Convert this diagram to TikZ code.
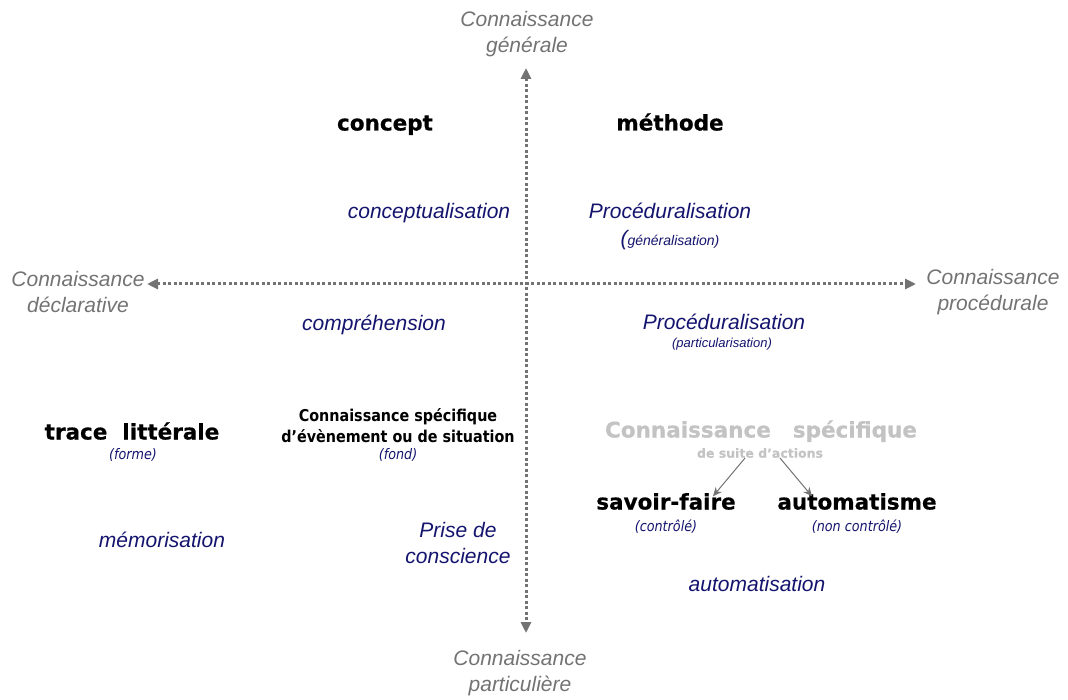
\documentclass[tikz,border=0pt]{standalone}
\usepackage{fontspec}
\setmainfont{Liberation Sans}
\newfontfamily\dejavu{DejaVu Sans}[FakeBold=0.6]
\newfontfamily\dejavuetroit{DejaVu Sans}[FakeStretch=0.88]
\usetikzlibrary{arrows.meta}
\definecolor{axegris}{RGB}{115,115,115}
\definecolor{bleunuit}{RGB}{20,20,110}
\definecolor{grisclair}{RGB}{195,195,195}
\tikzset{
  axe/.style={color=axegris, line width=3pt, dash pattern=on 3pt off 2.5pt,
    {Triangle[width=10pt,length=11pt]}-{Triangle[width=10pt,length=11pt]}},
  axelabel/.style={text=axegris, align=center, inner sep=0pt,
    font=\fontsize{21}{26}\selectfont\itshape},
  processus/.style={text=bleunuit, align=center, inner sep=0pt,
    font=\fontsize{21}{26}\selectfont\itshape},
  notion/.style={text=black, inner sep=0pt, text height=16pt, text depth=5pt,
    font=\dejavu\bfseries\fontsize{21.5}{25}\selectfont},
  note/.style={text=bleunuit, inner sep=0pt, font=\dejavuetroit\fontsize{14.5}{16}\selectfont\itshape},
  fleche/.style={color=axegris, line width=1pt, -{Stealth[width=8pt,length=9pt]}}
}
\begin{document}
\begin{tikzpicture}[x=1pt,y=-1pt]
\useasboundingbox (0,0) rectangle (1068,700);
% axes
\coordinate (haut) at (526,68);
\coordinate (bas) at (526,633);
\coordinate (gauche) at (147,284);
\coordinate (droite) at (916,284);
\draw[axe] (haut) -- (bas);
\draw[axe] (gauche) -- (droite);
\node[axelabel] (generale) at (527,34) {Connaissance\\générale};
\node[axelabel] (declarative) at (78,292) {Connaissance\\déclarative};
\node[axelabel] (procedurale) at (993,292) {Connaissance\\procédurale};
\node[axelabel] (particuliere) at (520,673) {Connaissance\\particulière};
% notions
\node[notion] (concept) at (385,125) {concept};
\node[notion] (methode) at (670,125) {méthode};
\node[notion] (trace) at (132,434) {trace\ \ littérale};
\node[note] (forme) at (133,455) {(forme)};
\node[inner sep=0pt, align=center, font=\dejavuetroit\bfseries\fontsize{16.3}{21}\selectfont] (specifique) at (398,426)
  {Connaissance spécifique\\d’évènement ou de situation};
\node[note] (fond) at (398,455) {(fond)};
\node[notion, text=grisclair] (actions) at (761,432) {Connaissance\hspace{22pt}spécifique};
\node[inner sep=0pt, text=grisclair, font=\dejavu\bfseries\fontsize{12.5}{15}\selectfont] (suite) at (760,453) {de suite d’actions};
\node[notion] (savoir) at (666,504) {savoir-faire};
\node[note] (controle) at (666,527) {(contrôlé)};
\node[notion] (automatisme) at (857,504) {automatisme};
\node[note] (noncontrole) at (857,527) {(non contrôlé)};
\draw[fleche] ([xshift=-15pt]suite.south) -- ([xshift=47pt,yshift=-3pt]savoir.north);
\draw[fleche] ([xshift=20pt]suite.south) -- ([xshift=-45pt,yshift=-3pt]automatisme.north);
% processus
\node[processus] (conceptualisation) at (429,213) {conceptualisation};
\node[processus] (procgen) at (670,211) {Procéduralisation};
\node[processus, font=\fontsize{14}{16}\selectfont\itshape] (generalisation) at (670,240)
  {{\fontsize{21}{21}\selectfont(}généralisation)};
\node[processus] (comprehension) at (374,325) {compréhension};
\node[processus] (procpart) at (724,322) {Procéduralisation};
\node[processus, font=\fontsize{13}{15}\selectfont\itshape] (particularisation) at (722,344) {(particularisation)};
\node[processus] (memorisation) at (162,540) {mémorisation};
\node[processus] (prise) at (458,543) {Prise de\\conscience};
\node[processus] (automatisation) at (757,584) {automatisation};
\end{tikzpicture}
\end{document}
